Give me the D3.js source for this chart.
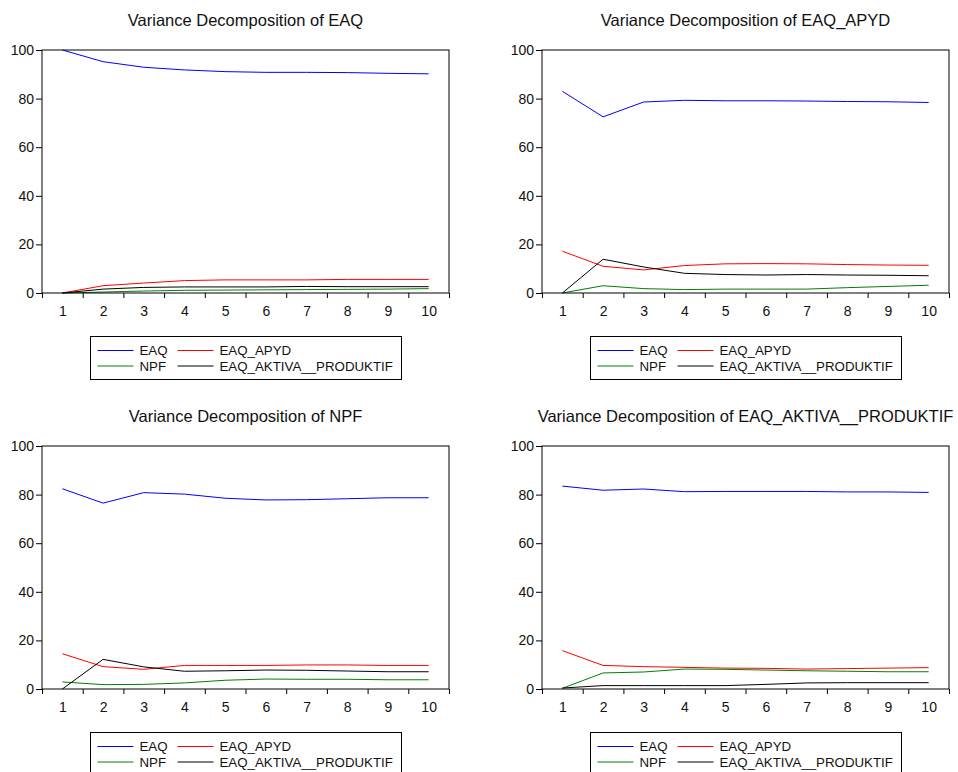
<!DOCTYPE html>
<html>
<head>
<meta charset="utf-8">
<script src="https://cdn.jsdelivr.net/npm/d3@7"></script>
<style>
  body { margin: 0; background: #fff; }
  svg { display: block; font-family: "Liberation Sans", Arial, sans-serif; }
</style>
</head>
<body>
<script>
const width = 958
const height = 772

// periods on the x axis
const periods = [1, 2, 3, 4, 5, 6, 7, 8, 9, 10];
const yTicks = [0, 20, 40, 60, 80, 100];

const seriesNames = ["EAQ", "EAQ_APYD", "NPF", "EAQ_AKTIVA__PRODUKTIF"];
const seriesColors = ["#0000ff", "#ff0000", "#008000", "#000000"];

const titles = [
    "Variance Decomposition of EAQ",
    "Variance Decomposition of EAQ_APYD",
    "Variance Decomposition of NPF",
    "Variance Decomposition of EAQ_AKTIVA__PRODUKTIF"
];

// values, one array per panel and series
// order: EAQ, EAQ_APYD, NPF, EAQ_AKTIVA__PRODUKTIF
const eaqPanel = [
    [100, 95.2, 92.9, 91.8, 91.1, 90.8, 90.8, 90.7, 90.4, 90.2],
    [0, 3.0, 4.1, 5.1, 5.4, 5.4, 5.4, 5.6, 5.6, 5.6],
    [0, 0.4, 0.8, 1.1, 1.2, 1.3, 1.4, 1.5, 1.6, 1.8],
    [0, 1.6, 2.3, 2.5, 2.5, 2.5, 2.7, 2.6, 2.6, 2.6]
];
const apydPanel = [
    [83.0, 72.5, 78.6, 79.3, 79.1, 79.1, 79.0, 78.8, 78.7, 78.4],
    [17.2, 11.0, 9.5, 11.3, 12.0, 12.1, 12.0, 11.7, 11.5, 11.4],
    [0, 3.0, 1.8, 1.4, 1.6, 1.6, 1.6, 2.2, 2.7, 3.2],
    [0, 13.9, 10.7, 8.1, 7.6, 7.4, 7.6, 7.4, 7.3, 7.1]
];
const npfPanel = [
    [82.4, 76.5, 80.8, 80.2, 78.5, 77.8, 77.9, 78.3, 78.7, 78.7],
    [14.5, 9.2, 8.1, 9.7, 9.7, 9.7, 9.9, 9.9, 9.7, 9.7],
    [2.9, 1.8, 1.9, 2.5, 3.6, 4.1, 4.0, 4.0, 3.8, 3.8],
    [0, 12.2, 9.1, 7.3, 7.5, 7.8, 7.7, 7.4, 7.1, 7.1]
];
const aktivaPanel = [
    [83.5, 81.8, 82.3, 81.2, 81.3, 81.3, 81.3, 81.1, 81.1, 80.9],
    [15.8, 9.7, 9.2, 8.9, 8.6, 8.5, 8.2, 8.4, 8.6, 8.8],
    [0.3, 6.6, 7.0, 8.2, 8.1, 7.8, 7.5, 7.3, 7.1, 7.1],
    [0.4, 1.4, 1.4, 1.4, 1.4, 1.9, 2.5, 2.6, 2.6, 2.6]
];
const panelData = [eaqPanel, apydPanel, npfPanel, aktivaPanel];

// layout of the 2x2 grid
const plotW = 407
const plotH = 243
const origins = [[42, 50], [542, 50], [42, 446], [542, 446]];

const svg = d3.select("body").append("svg")
    .attr("width", width)
    .attr("height", height);

const x = d3.scaleLinear().domain([0.5, 10.5]).range([0, plotW]);
const y = d3.scaleLinear().domain([0, 100]).range([plotH, 0]);

const line = d3.line()
    .x((d, i) => x(periods[i]))
    .y(d => y(d));

panelData.forEach((panel, p) => {
    const g = svg.append("g")
        .attr("transform", `translate(${origins[p][0]},${origins[p][1]})`);

    // title
    g.append("text")
        .attr("x", plotW / 2)
        .attr("y", -30)
        .attr("dy", "0.35em")
        .attr("text-anchor", "middle")
        .style("font-size", "16.5px")
        .style("fill", "#111")
        .text(titles[p]);

    // y axis
    const yAxis = g.append("g")
        .call(d3.axisLeft(y).tickValues(yTicks).tickSize(6).tickPadding(2));
    yAxis.select(".domain").remove();
    yAxis.selectAll("text").style("font-size", "14px").style("fill", "#111")
        .style("font-family", "'Liberation Sans', Arial, sans-serif");

    // x axis: tick marks between periods, labels under each period
    const xTickAxis = g.append("g")
        .attr("transform", `translate(0,${plotH})`)
        .call(d3.axisBottom(x).tickValues(d3.range(0.5, 11, 1)).tickFormat("").tickSize(5));
    xTickAxis.select(".domain").remove();

    const xLabelAxis = g.append("g")
        .attr("transform", `translate(0,${plotH})`)
        .call(d3.axisBottom(x).tickValues(periods).tickSize(0).tickPadding(13));
    xLabelAxis.select(".domain").remove();
    xLabelAxis.selectAll("text").style("font-size", "14px").style("fill", "#111")
        .style("font-family", "'Liberation Sans', Arial, sans-serif");

    // series lines
    panel.forEach((values, s) => {
        g.append("path")
            .datum(values)
            .attr("d", line)
            .attr("fill", "none")
            .attr("stroke", seriesColors[s])
            .attr("stroke-width", 1);
    });

    // frame
    g.append("rect")
        .attr("x", 0)
        .attr("y", 0)
        .attr("width", plotW)
        .attr("height", plotH)
        .attr("fill", "none")
        .attr("stroke", "#000")
        .attr("stroke-width", 1);

    // legend
    const legW = 311
    const legH = 43
    const leg = g.append("g")
        .attr("transform", `translate(${plotW / 2 - legW / 2 + 0.5},${plotH + 43.5})`);
    leg.append("rect")
        .attr("width", legW)
        .attr("height", legH)
        .attr("fill", "#fff")
        .attr("stroke", "#000")
        .attr("stroke-width", 1);

    seriesNames.forEach((name, s) => {
        const col = s % 2
        const row = Math.floor(s / 2)
        const lx = col === 0 ? 7 : 87
        const ly = row === 0 ? 14 : 29.5
        leg.append("line")
            .attr("x1", lx)
            .attr("x2", lx + 36)
            .attr("y1", ly)
            .attr("y2", ly)
            .attr("stroke", seriesColors[s])
            .attr("stroke-width", 1);
        leg.append("text")
            .attr("x", lx + 42)
            .attr("y", ly)
            .attr("dy", "0.35em")
            .style("font-size", "13.3px")
            .style("fill", "#111")
            .text(name);
    });
});
</script>
</body>
</html>
